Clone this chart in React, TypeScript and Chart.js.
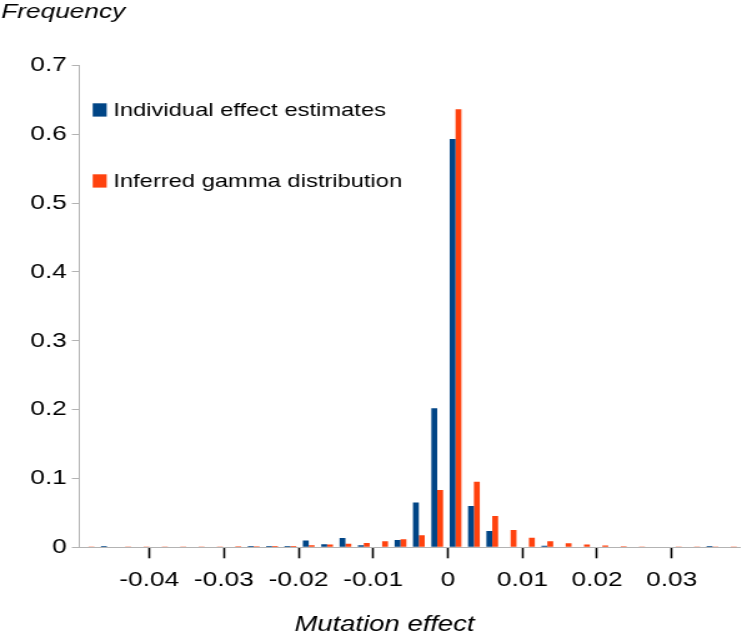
import React, { useEffect, useRef } from 'react';
import { Chart, registerables } from 'chart.js';

Chart.register(...registerables);

// Histogram bin centres (mutation effect)
const binCenters = [
  -0.0482, -0.0458, -0.0433, -0.0409, -0.0384, -0.0359, -0.0335, -0.031, -0.0286, -0.0261,
  -0.0236, -0.0212, -0.0187, -0.0163, -0.0138, -0.0113, -0.0089, -0.0064, -0.004, -0.0015,
  0.001, 0.0034, 0.0059, 0.0084, 0.0108, 0.0133, 0.0157, 0.0182, 0.0207, 0.0231,
  0.0256, 0.028, 0.0305, 0.033, 0.0354, 0.0379,
];

const individualEstimates = [
  0, 0.002, 0, 0, 0, 0, 0, 0, 0, 0.002,
  0.002, 0.002, 0.01, 0.0045, 0.0135, 0.003, 0, 0.0107, 0.065, 0.2019,
  0.593, 0.06, 0.0237, 0, 0, 0.0024, 0, 0, 0, 0,
  0, 0, 0, 0, 0.002, 0,
];

const gammaDistribution = [
  0.001, 0.0008, 0.001, 0.001, 0.001, 0.001, 0.0012, 0.0013, 0.0015, 0.0015,
  0.0018, 0.002, 0.003, 0.004, 0.005, 0.0063, 0.0087, 0.0116, 0.0174, 0.0832,
  0.636, 0.0953, 0.0455, 0.025, 0.014, 0.0087, 0.0058, 0.004, 0.0025, 0.0017,
  0.0012, 0.0008, 0.0006, 0.0004, 0.0003, 0.0002,
];

const seriesNames = ['Individual effect estimates', 'Inferred gamma distribution'];
const seriesColors = ['#004586', '#ff420e'];

const xTickValues = [-0.04, -0.03, -0.02, -0.01, 0, 0.01, 0.02, 0.03];
const yTickValues = [0, 0.1, 0.2, 0.3, 0.4, 0.5, 0.6, 0.7];

const xAxisTitle = 'Mutation effect';
const yAxisTitle = 'Frequency';

const FONT = '"Liberation Sans", Arial, sans-serif';
const CANVAS_W = 594;
const CANVAS_H = 637;

const overlayPlugin = {
  id: 'overlayTexts',
  afterDraw(chart: any) {
    const { ctx, chartArea } = chart;
    ctx.save();
    // legend inside plot area
    chart.data.datasets.forEach((ds: any, i: number) => {
      const top = chartArea.top + 38 + i * 71;
      ctx.fillStyle = ds.backgroundColor;
      ctx.fillRect(chartArea.left + 10.7, top, 11.2, 13.3);
      ctx.fillStyle = '#000';
      ctx.font = `19px ${FONT}`;
      ctx.textAlign = 'left';
      ctx.textBaseline = 'middle';
      ctx.fillText(ds.label, chartArea.left + 27.2, top + 7);
    });
    // axis titles
    ctx.fillStyle = '#000';
    ctx.font = `italic 21px ${FONT}`;
    ctx.textAlign = 'left';
    ctx.textBaseline = 'middle';
    ctx.fillText(yAxisTitle, 1, 12);
    ctx.font = `italic 22px ${FONT}`;
    ctx.textAlign = 'center';
    ctx.fillText(xAxisTitle, 307.8, 625);
    ctx.restore();
  },
};

export default function App() {
  const canvasRef = useRef<HTMLCanvasElement | null>(null);

  useEffect(() => {
    if (!canvasRef.current) return;
    Chart.defaults.font.family = FONT;
    Chart.defaults.color = '#000';
    const chart = new Chart(canvasRef.current, {
      type: 'bar',
      data: {
        labels: binCenters.map((v) => String(v)),
        datasets: [
          {
            label: seriesNames[0],
            data: individualEstimates,
            backgroundColor: seriesColors[0],
            borderWidth: 0,
            barPercentage: 1,
            categoryPercentage: 0.64,
          },
          {
            label: seriesNames[1],
            data: gammaDistribution,
            backgroundColor: seriesColors[1],
            borderWidth: 0,
            barPercentage: 1,
            categoryPercentage: 0.64,
          },
        ],
      },
      options: {
        responsive: false,
        animation: false,
        devicePixelRatio: 1,
        layout: { padding: { top: 65.3, right: 1.6, bottom: 0, left: 0 } },
        plugins: {
          legend: { display: false },
          tooltip: { enabled: false },
          title: { display: false },
        },
        scales: {
          x: { type: 'category', display: false },
          x2: {
            type: 'linear',
            position: 'bottom',
            offset: false,
            min: -0.04938,
            max: 0.03915,
            afterBuildTicks: (scale: any) => {
              scale.ticks = xTickValues.map((v) => ({ value: v }));
            },
            afterFit: (scale: any) => {
              scale.height = 89.7;
            },
            ticks: {
              autoSkip: false,
              maxRotation: 0,
              padding: 9,
              color: '#000',
              font: { size: 21, family: FONT },
              callback: (value: any) => {
                const v = Math.round(Number(value) * 100) / 100;
                return v === 0 ? '0' : v.toFixed(2);
              },
            },
            grid: {
              display: true,
              offset: false,
              drawOnChartArea: false,
              drawTicks: true,
              tickLength: 11,
              tickColor: '#000',
              tickWidth: 1.6,
            },
            border: { display: true, color: '#b3b3b3', width: 1 },
          },
          y: {
            type: 'linear',
            position: 'left',
            min: 0,
            max: 0.7,
            afterBuildTicks: (scale: any) => {
              scale.ticks = yTickValues.map((v) => ({ value: v }));
            },
            afterFit: (scale: any) => {
              scale.width = 63.5;
            },
            ticks: {
              padding: 4,
              color: '#000',
              font: { size: 21, family: FONT },
              callback: (value: any) => {
                const v = Math.round(Number(value) * 10) / 10;
                return v === 0 ? '0' : v.toFixed(1);
              },
            },
            grid: {
              display: true,
              drawOnChartArea: false,
              drawTicks: true,
              tickLength: 6,
              color: '#b3b3b3',
            },
            border: { display: true, color: '#b3b3b3', width: 1 },
          },
        },
      } as any,
      plugins: [overlayPlugin],
    });
    return () => chart.destroy();
  }, []);

  return (
    <div style={{ position: 'fixed', left: 0, top: 0, width: 742, height: 637, background: '#fff' }}>
      <canvas
        ref={canvasRef}
        width={CANVAS_W}
        height={CANVAS_H}
        style={{ width: '742px', height: '637px', display: 'block' }}
      />
    </div>
  );
}
